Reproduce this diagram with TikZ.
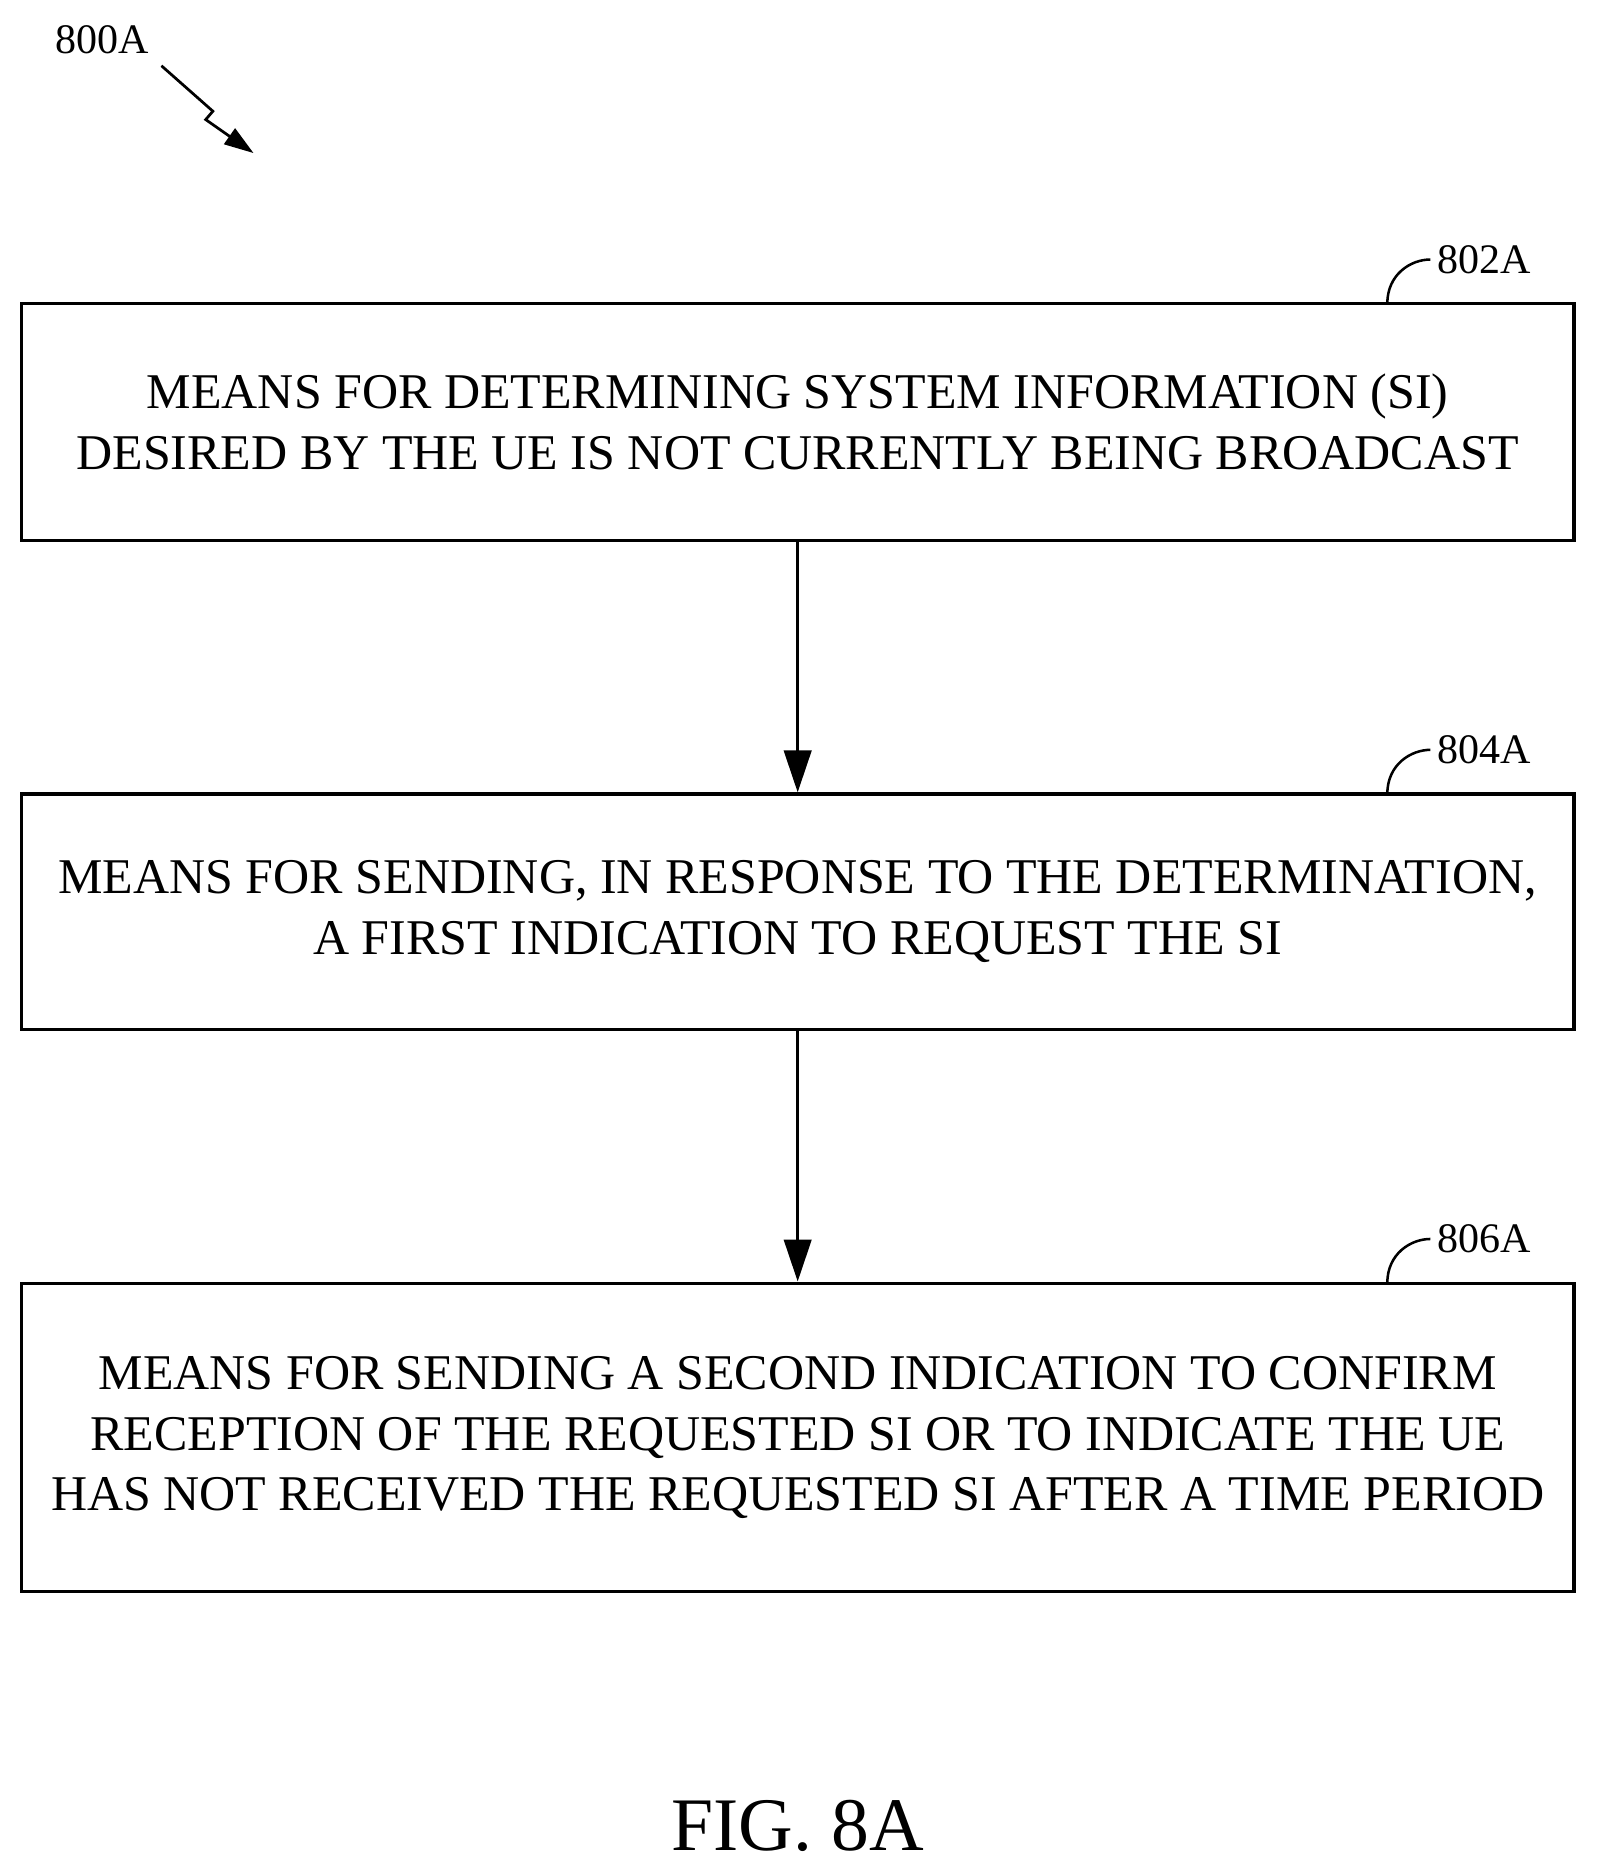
\documentclass[tikz,border=0pt]{standalone}
\usepackage{fontspec}
\setmainfont{Liberation Serif}
\usetikzlibrary{arrows.meta}
\begin{document}
\begin{tikzpicture}[x=0.02cm,y=-0.02cm,
 box/.style={draw,line width=1.6pt,minimum width=1298*0.02cm,align=center,font=\fontsize{23.8}{29}\selectfont,inner sep=0pt},
 lab/.style={font=\fontsize{20}{24}\selectfont},
 arr/.style={line width=1.6pt,-{Triangle[length=20pt,width=13pt]}},
 lead/.style={line width=1.2pt}]
\useasboundingbox (0,0) rectangle (1335,1567);
\node[box,minimum height=198*0.02cm] (b1) at (667,353) {MEANS FOR DETERMINING SYSTEM INFORMATION (SI)\\DESIRED BY THE UE IS NOT CURRENTLY BEING BROADCAST};
\node[box,minimum height=197*0.02cm] (b2) at (667,762.5) {MEANS FOR SENDING, IN RESPONSE TO THE DETERMINATION,\\A FIRST INDICATION TO REQUEST THE SI};
\node[box,minimum height=258*0.02cm] (b3) at (667,1202) {MEANS FOR SENDING A SECOND INDICATION TO CONFIRM\\RECEPTION OF THE REQUESTED SI OR TO INDICATE THE UE\\HAS NOT RECEIVED THE REQUESTED SI AFTER A TIME PERIOD};
\draw[arr] (b1) -- (b2);
\draw[arr] (b2) -- (b3);
\foreach \n/\y/\t in {b1/254/802A,b2/664/804A,b3/1073/806A}{
 \node[lab,anchor=west] (l\n) at (1196,\y-37) {\t};
 \draw[lead] (1160,\y) .. controls (1160,\y-25) and (1180,\y-37) .. (l\n.west);
}
\node[lab,anchor=west] (l800) at (40,33) {800A};
\coordinate (z1) at (135,55);
\coordinate (z2) at (178,93);
\coordinate (z3) at (172,100);
\coordinate (z4) at (212,128);
\draw[line width=1.3pt,-{Triangle[length=14pt,width=9pt]}] (z1) -- (z2) -- (z3) -- (z4);
\node[font=\fontsize{36}{40}\selectfont] (fig) at (667,1527) {FIG. 8A};
\end{tikzpicture}
\end{document}
